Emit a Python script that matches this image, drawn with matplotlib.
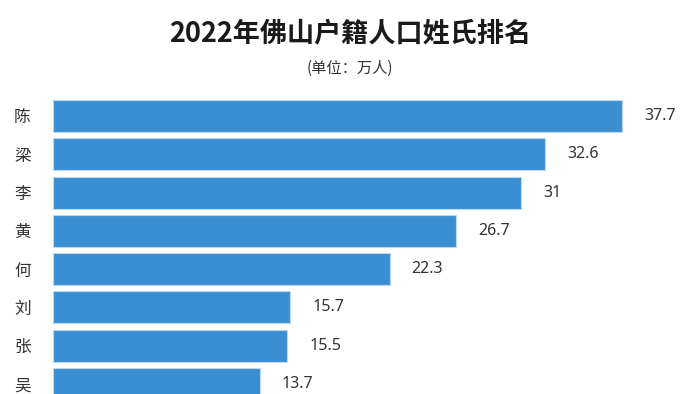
import matplotlib
matplotlib.use("Agg")
import matplotlib.pyplot as plt

plt.rcParams['font.family'] = ['Noto Sans CJK SC', 'DejaVu Sans']

surnames = ["陈", "梁", "李", "黄", "何", "刘", "张", "吴"]
values = [37.7, 32.6, 31, 26.7, 22.3, 15.7, 15.5, 13.7]
value_labels = ["37.7", "32.6", "31", "26.7", "22.3", "15.7", "15.5", "13.7"]

W, H = 700, 394
fig = plt.figure(figsize=(W / 100, H / 100), dpi=100)
fig.patch.set_facecolor("white")

left_px = 53
px_per_unit = 15.09
xmax = 42
ax = fig.add_axes([left_px / W, 0, xmax * px_per_unit / W, 1 - 98 / H])

pos = list(range(len(surnames)))
ax.barh(pos, values, height=0.835, color="#3a8fd3", edgecolor="#bcd8ef", linewidth=0.8)

for p, v, lab in zip(pos, values, value_labels):
    ax.annotate(lab, xy=(v, p), xytext=(16, 0), textcoords="offset points",
                ha="left", va="center", fontsize=11.5, color="#333333",
                family=["Noto Sans", "DejaVu Sans"])

ax.set_xlim(0, xmax)
ax.set_ylim(7.26, -0.47)
ax.set_yticks(pos)
ax.set_yticklabels(surnames, fontsize=12, color="#333333")
ax.tick_params(axis="y", length=0, pad=16)
ax.set_xticks([])
for s in ax.spines.values():
    s.set_visible(False)

fig.text(0.5, 1 - 33 / H, "2022年佛山户籍人口姓氏排名", ha="center", va="center",
         fontsize=19.5, fontweight="bold", color="#1a1a1a")
fig.text(0.5, 1 - 68 / H, "(单位：万人)", ha="center", va="center",
         fontsize=11, color="#333333")

fig.savefig("out.png", dpi=100, facecolor="white")
